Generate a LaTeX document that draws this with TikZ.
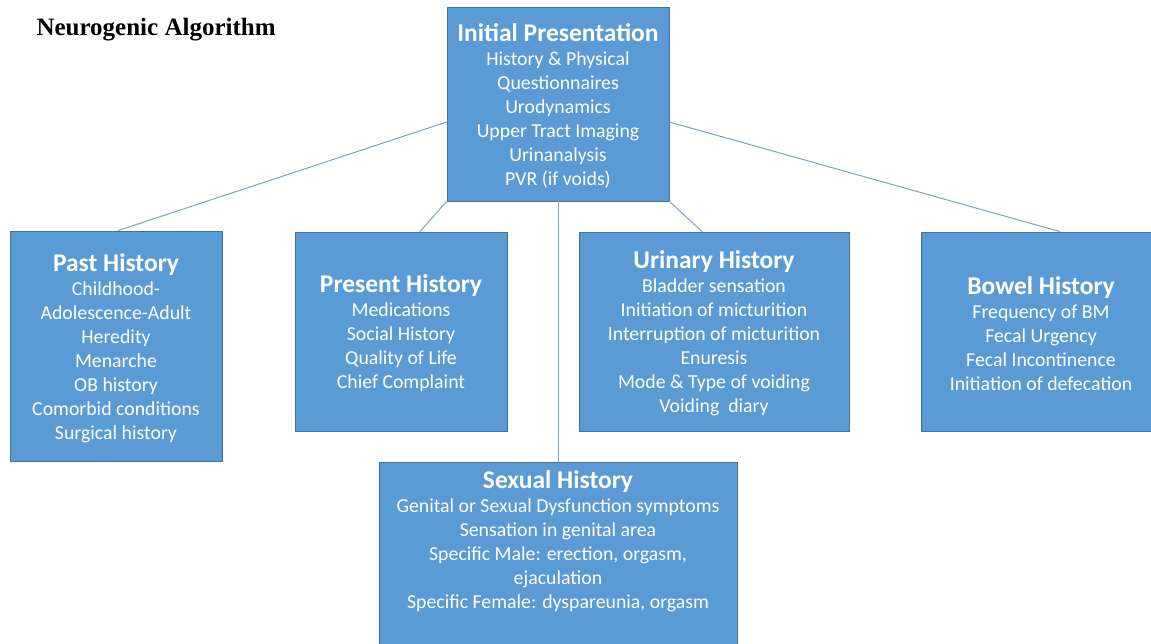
\documentclass[tikz,border=0pt]{standalone}
\usepackage{fontspec}
\setmainfont{Carlito}
\newfontfamily\headfont{Liberation Serif}
\usepackage{tikz}
\usetikzlibrary{positioning}
\definecolor{boxblue}{RGB}{91,155,213}
\definecolor{boxedge}{RGB}{65,113,156}
\definecolor{linkblue}{RGB}{125,160,200}
\tikzset{mybox/.style={draw=boxedge, line width=0.8pt, fill=boxblue, text=white, align=center, inner sep=0pt, font=\fontsize{19.8}{24}\selectfont}}
\tikzset{myline/.style={draw=linkblue, line width=1pt}}
\newcommand{\myhead}[1]{{\fontsize{25.5}{26}\selectfont\bfseries\rule{0pt}{22pt}#1}}

\begin{document}
\begin{tikzpicture}[x=1pt, y=-1pt]

\useasboundingbox (0, 0) rectangle (1151, 643);
\clip (0, 0) rectangle (1151, 643);

\node[anchor=base west, font=\headfont\bfseries\fontsize{25}{27}\selectfont] (title) at (33, 35) {Neurogenic Algorithm};

\node[mybox, minimum width=222, minimum height=194] (initPres) at (558, 104)
{\myhead{Initial Presentation}\\ History \& Physical\\ Questionnaires\\ Urodynamics\\ Upper Tract Imaging\\ Urinanalysis\\ PVR (if voids)};

\node[mybox, minimum width=212, minimum height=230] (pastHist) at (116, 346)
{\myhead{Past History}\\ Childhood-\\ Adolescence-Adult\\ Heredity\\ Menarche\\ OB history\\ Comorbid conditions\\ Surgical history};

\node[mybox, minimum width=212, minimum height=199] (presHist) at (401, 331.5)
{\myhead{Present History}\\ Medications\\ Social History\\ Quality of Life\\ Chief Complaint};

\node[mybox, minimum width=270, minimum height=199] (urinHist) at (714, 331.5)
{\myhead{Urinary History}\\ Bladder sensation\\ Initiation of micturition\\ Interruption of micturition\\ Enuresis\\ Mode \& Type of voiding\\ Voiding\ \ diary};

\node[mybox, minimum width=240, minimum height=199] (bowelHist) at (1041, 331.5)
{\myhead{Bowel History}\\ Frequency of BM\\ Fecal Urgency\\ Fecal Incontinence\\ Initiation of defecation};

\node[mybox, minimum width=358, inner ysep=4pt, anchor=north] (sexHist) at (558, 462)
{\myhead{Sexual History}\\ Genital or Sexual Dysfunction symptoms\\ Sensation in genital area\\ Specific Male: erection, orgasm,\\ ejaculation\\ Specific Female: dyspareunia, orgasm\\[14pt] \strut};

\draw[myline] ([yshift=-18pt]initPres.west) to ([xshift=2pt]pastHist.north);
\draw[myline] (initPres.south west) to ([xshift=19pt]presHist.north);
\draw[myline] (initPres.south) to (sexHist.north);
\draw[myline] (initPres.south east) to ([xshift=-12pt]urinHist.north);
\draw[myline] ([yshift=-18pt]initPres.east) to ([xshift=19pt]bowelHist.north);

\end{tikzpicture}
\end{document}
